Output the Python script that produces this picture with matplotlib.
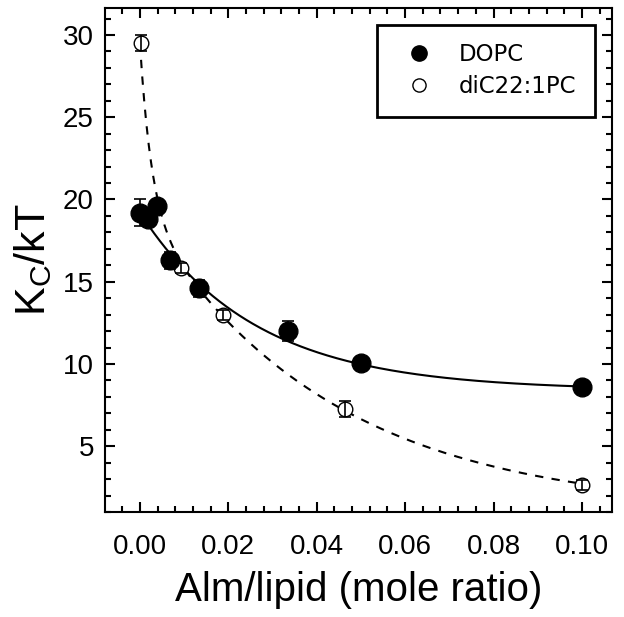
import numpy as np
import matplotlib
matplotlib.use("Agg")
import matplotlib.pyplot as plt
from matplotlib.ticker import MultipleLocator
from matplotlib.lines import Line2D

# data
dopc_x = [0.0, 0.0018, 0.0038, 0.0068, 0.0133, 0.0334, 0.050, 0.100]
dopc_y = [19.2, 18.8, 19.6, 16.3, 14.6, 12.0, 10.05, 8.6]
dopc_err = [0.8, 0.3, 0.3, 0.5, 0.5, 0.6, 0.3, 0.3]

dic22_x = [0.0002, 0.0094, 0.0187, 0.0465, 0.100]
dic22_y = [29.5, 15.85, 12.95, 7.25, 2.65]
dic22_err = [0.5, 0.3, 0.3, 0.5, 0.3]

# fit curve parameters (exponential decays)
dopc_fit = (8.4, 10.8, 0.026)            # A, B, c
dic22_fit = (1.0, 9.93, 0.0026, 18.57, 0.042)  # A, B1, c1, B2, c2

xs = np.linspace(0, 0.1, 400)
A, B, c = dopc_fit
y_dopc = A + B * np.exp(-xs / c)
A2, B1, c1, B2, c2 = dic22_fit
y_dic = A2 + B1 * np.exp(-xs / c1) + B2 * np.exp(-xs / c2)

plt.rcParams['font.family'] = ['Liberation Sans', 'DejaVu Sans']
plt.rcParams['mathtext.fontset'] = 'custom'
plt.rcParams['mathtext.rm'] = 'Liberation Sans'

fig = plt.figure(figsize=(6.24, 6.17), dpi=100)
ax = fig.add_axes([105 / 624, 1 - 512 / 617, 507 / 624, 504 / 617])

ax.plot(xs, y_dic, "k--", lw=1.5, dashes=(4, 4))
ax.plot(xs[8:], y_dopc[8:], "k-", lw=1.5)

# open markers first, error bars drawn over them
ax.plot(dic22_x, dic22_y, "o", mfc="white", mec="black", ms=10.5, mew=1, zorder=3)
ax.errorbar(dic22_x, dic22_y, yerr=dic22_err, fmt="none", ecolor="black",
            elinewidth=1.2, capsize=4, capthick=1.2, zorder=3.5)
ax.errorbar(dopc_x, dopc_y, yerr=dopc_err, fmt="o", mfc="black", mec="black",
            ms=13.5, ecolor="black", elinewidth=1.2, capsize=4, capthick=1.2,
            zorder=4)

ax.set_xlim(-0.0079, 0.1068)
ax.set_ylim(1.0, 31.64)
ax.xaxis.set_major_locator(MultipleLocator(0.02))
ax.xaxis.set_minor_locator(MultipleLocator(0.004))
ax.yaxis.set_major_locator(MultipleLocator(5))
ax.yaxis.set_minor_locator(MultipleLocator(1))
ax.tick_params(which="both", direction="in", top=True, right=True, width=1.5)
ax.tick_params(which="major", length=7, labelsize=20)
ax.tick_params(axis="y", which="major", pad=8)
ax.tick_params(axis="x", which="major", pad=16)
ax.tick_params(which="minor", length=4)
ax.set_xticks(ax.get_xticks())
ax.set_xticklabels([f"{v:.2f}" for v in ax.get_xticks()])
ax.set_xlim(-0.0079, 0.1068)
for s in ax.spines.values():
    s.set_linewidth(1.5)

ax.set_xlabel("Alm/lipid (mole ratio)", fontsize=29, labelpad=8)
ax.set_ylabel(r"K$_\mathregular{C}$/kT", fontsize=31, labelpad=6)

handles = [Line2D([], [], ls="none", marker="o", ms=11, mfc="black", mec="black"),
           Line2D([], [], ls="none", marker="o", ms=9.5, mfc="white", mec="black", mew=1)]
leg = ax.legend(handles, ["DOPC", "diC22:1PC"], loc="upper right",
                bbox_to_anchor=(0.9665, 0.9663),
                prop={"family": "DejaVu Sans", "size": 16.5},
                frameon=True, fancybox=False, borderpad=0.8,
                handletextpad=0.7, borderaxespad=0, labelspacing=0.4,
                handlelength=2.1, framealpha=1)
leg.get_frame().set_edgecolor("black")
leg.get_frame().set_linewidth(2)

fig.savefig("out.png", dpi=100)
